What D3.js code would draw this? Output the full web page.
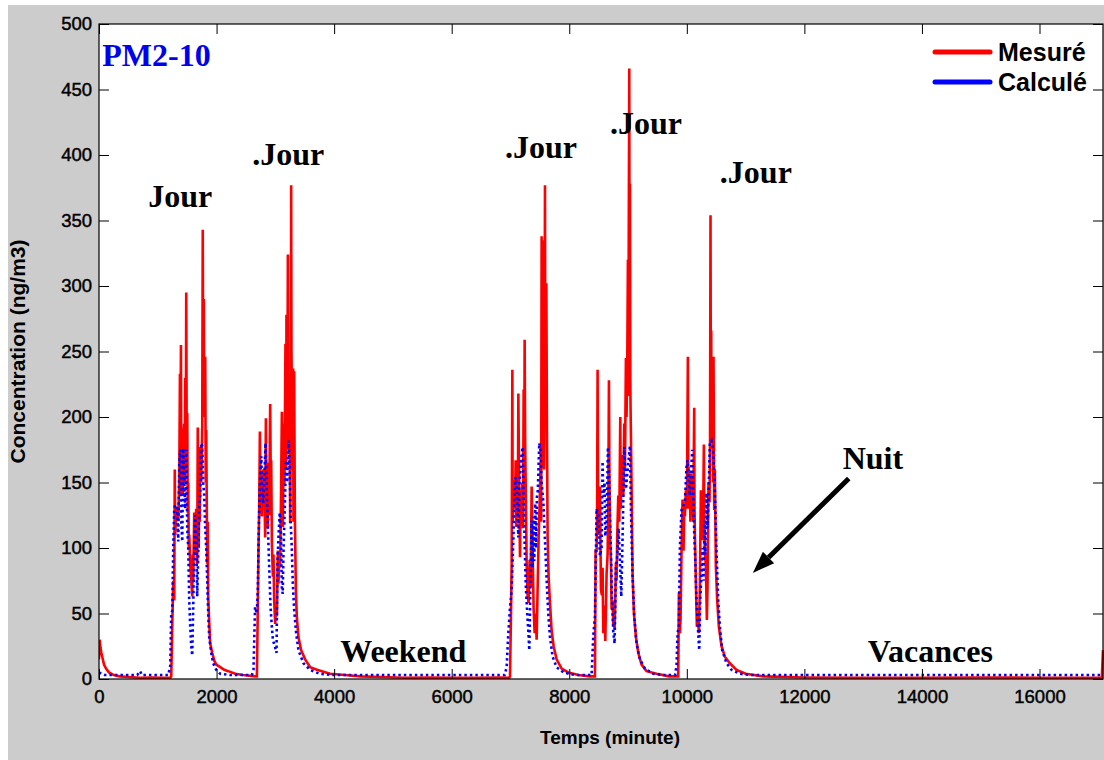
<!DOCTYPE html>
<html>
<head>
<meta charset="utf-8">
<script src="https://cdn.jsdelivr.net/npm/d3@7"></script>
<style>
  body { margin: 0; background: #ffffff; }
  svg { display: block; }
</style>
</head>
<body>
<svg id="chart" width="1104" height="760"></svg>
<script>
// ---- data -------------------------------------------------------------
const xTicks = [0, 2000, 4000, 6000, 8000, 10000, 12000, 14000, 16000];
const yTicks = [0, 50, 100, 150, 200, 250, 300, 350, 400, 450, 500];
const xMax = 17080;   // length of the record, minutes
const yMax = 500;

// measured concentration: [minute, ng/m3]
const mesure = [
  [0,15],[10,30],[25,24],[40,20],[60,16],[85,11],[120,8],[170,5],[250,3],[350,2],[500,1.5],[700,1],[900,1.2],[1100,1],[1215,1],
  [1229,2],[1246,40],[1263,75],[1280,60],[1289,160],[1297,110],[1314,130],[1331,125],[1348,121],[1365,150],[1377,233],[1382,140],[1394,255],[1399,170],[1416,190],[1425,140],[1433,185],[1450,195],[1459,150],[1467,230],[1476,160],[1484,295],[1493,170],[1501,203],[1510,127],[1518,150],[1527,101],[1535,110],[1552,88],[1569,76],[1586,63],[1595,95],[1603,75],[1620,127],[1629,95],[1637,114],[1654,130],[1663,100],[1671,88],[1680,192],[1688,127],[1697,100],[1705,152],[1714,120],[1722,177],[1739,150],[1756,190],[1765,343],[1773,230],[1782,290],[1790,200],[1807,246],[1816,150],[1824,190],[1841,88],[1850,120],[1858,63],[1875,43],[1892,27],[1926,20],[1960,14],[1994,11],[2062,9],[2130,7],[2198,6],[2317,4],[2453,3],[2657,2],
  [2686,2],[2703,60],[2713,98],[2725,130],[2737,189],[2747,135],[2759,144],[2771,124],[2781,152],[2798,160],[2815,140],[2827,108],[2839,199],[2849,130],[2861,165],[2873,115],[2883,150],[2895,125],[2912,210],[2924,140],[2929,167],[2941,104],[2958,78],[2968,95],[2980,60],[2997,42],[3014,55],[3026,48],[3043,98],[3053,73],[3070,98],[3082,85],[3094,129],[3111,204],[3128,116],[3145,195],[3155,149],[3172,256],[3184,160],[3189,278],[3201,180],[3206,226],[3213,324],[3223,200],[3230,175],[3240,230],[3252,119],[3264,200],[3269,377],[3274,250],[3286,200],[3291,160],[3303,237],[3308,120],[3320,235],[3332,124],[3349,68],[3366,47],[3393,32],[3439,22],[3507,15],[3592,9],[3706,7],[3931,4],[4186,3],[4440,2],
  [4800,1.5],[5200,1],[5600,1.2],[6000,1],[6400,1],[6800,1.2],[6980,1],
  [6992,2],[7009,50],[7020,89],[7032,236],[7037,120],[7049,134],[7066,152],[7077,130],[7088,167],[7100,116],[7117,150],[7125,125],[7134,218],[7145,160],[7162,93],[7173,144],[7190,130],[7202,150],[7213,115],[7224,221],[7233,140],[7241,259],[7250,180],[7258,152],[7275,89],[7292,63],[7309,58],[7326,91],[7343,70],[7360,147],[7377,98],[7394,53],[7411,35],[7428,50],[7445,30],[7462,70],[7479,108],[7496,134],[7513,165],[7522,120],[7530,338],[7536,200],[7542,335],[7553,190],[7570,160],[7579,210],[7587,377],[7593,200],[7598,230],[7610,302],[7621,185],[7632,108],[7649,78],[7672,58],[7700,37],[7734,25],[7785,15],[7870,8],[7984,5],[8154,3],[8350,2],
  [8437,2],[8448,98],[8465,98],[8474,130],[8482,236],[8491,120],[8499,128],[8511,110],[8522,147],[8539,68],[8556,64],[8567,85],[8579,35],[8596,56],[8613,29],[8635,80],[8652,95],[8664,130],[8675,228],[8684,150],[8692,111],[8709,90],[8720,53],[8737,60],[8749,41],[8760,55],[8771,38],[8783,60],[8794,89],[8805,75],[8817,111],[8834,140],[8851,120],[8868,200],[8876,130],[8885,150],[8902,171],[8919,140],[8936,195],[8947,160],[8964,245],[8975,200],[8987,243],[8998,320],[9004,216],[9021,466],[9026,250],[9032,378],[9038,230],[9043,207],[9060,147],[9077,80],[9100,50],[9134,32],[9174,20],[9230,11],[9315,6],[9485,4],[9700,2],
  [9854,2],[9865,66],[9876,40],[9882,35],[9893,45],[9910,98],[9927,137],[9939,110],[9944,98],[9956,130],[9967,124],[9984,144],[10001,130],[10018,246],[10024,150],[10029,162],[10041,130],[10052,150],[10061,120],[10069,157],[10080,125],[10097,150],[10109,120],[10126,207],[10131,130],[10137,111],[10154,73],[10171,40],[10188,48],[10205,35],[10222,70],[10239,144],[10250,110],[10256,140],[10273,106],[10290,179],[10299,110],[10307,98],[10324,86],[10341,45],[10352,70],[10369,150],[10386,135],[10395,180],[10403,354],[10409,200],[10415,266],[10420,180],[10426,203],[10437,220],[10446,150],[10454,246],[10466,129],[10477,160],[10494,86],[10517,60],[10545,40],[10590,25],[10647,17],[10732,12],[10845,7],[11000,4],[11300,2],
  [12000,1.2],[13000,1],[14000,1],[15000,1.2],[16000,1],[17060,1],[17080,22]
];

// model output: [minute, ng/m3]
const calcule = [
  [0,5],[40,4],[100,3],[300,3],[650,3],[700,6],[730,3],[1178,3],
  [1212,10],[1229,50],[1246,52],[1263,100],[1280,130],[1297,133],[1314,132],[1331,128],[1348,105],[1365,165],[1382,175],[1399,120],[1416,105],[1433,176],[1450,150],[1467,130],[1484,175],[1501,115],[1518,100],[1535,60],[1552,40],[1569,25],[1586,18],[1603,55],[1620,100],[1637,125],[1654,110],[1671,63],[1688,95],[1705,130],[1722,140],[1739,180],[1756,178],[1773,150],[1790,140],[1807,115],[1824,100],[1841,75],[1858,50],[1875,32],[1909,20],[1943,12],[1994,7],[2062,4],[2232,3],
  [2600,3],[2628,7],[2655,55],[2686,50],[2703,70],[2713,100],[2728,135],[2745,157],[2761,170],[2776,140],[2793,134],[2810,150],[2833,180],[2850,149],[2871,119],[2890,93],[2905,73],[2918,55],[2940,40],[2958,30],[2990,25],[3020,20],[3035,88],[3055,110],[3075,127],[3095,111],[3110,70],[3125,65],[3140,100],[3160,130],[3180,167],[3200,150],[3225,182],[3245,160],[3262,119],[3280,100],[3297,73],[3320,53],[3354,35],[3393,22],[3478,12],[3592,7],[3750,4],[4000,3],
  [6900,3],[6935,9],[6960,32],[6990,53],[7020,68],[7050,108],[7066,139],[7088,154],[7110,145],[7134,108],[7150,147],[7170,160],[7190,172],[7210,177],[7225,134],[7245,96],[7262,70],[7285,50],[7303,37],[7320,22],[7335,60],[7360,121],[7375,85],[7390,124],[7405,90],[7420,134],[7435,100],[7450,139],[7465,144],[7490,180],[7510,175],[7530,150],[7560,134],[7585,108],[7615,76],[7643,50],[7672,32],[7717,17],[7785,9],[7900,5],[8100,3],
  [8380,3],[8409,33],[8437,48],[8465,130],[8493,125],[8522,94],[8550,100],[8567,166],[8579,139],[8600,150],[8613,109],[8635,120],[8658,177],[8680,154],[8703,109],[8726,63],[8749,36],[8771,27],[8794,85],[8817,94],[8839,115],[8862,90],[8885,63],[8908,110],[8936,177],[8964,145],[9004,165],[9032,178],[9049,130],[9077,79],[9106,48],[9145,27],[9202,15],[9287,8],[9430,4],[9600,3],
  [9800,3],[9825,10],[9842,35],[9865,40],[9882,100],[9910,129],[9939,132],[9967,135],[9995,162],[10012,167],[10035,150],[10052,140],[10069,157],[10092,175],[10109,140],[10126,111],[10148,86],[10165,60],[10194,35],[10211,22],[10228,60],[10250,81],[10270,100],[10284,75],[10300,121],[10315,95],[10335,142],[10352,115],[10375,150],[10392,180],[10420,182],[10448,175],[10477,144],[10505,98],[10534,60],[10562,40],[10602,22],[10675,12],[10760,7],[10900,4],[11100,3],
  [17080,3]
];

const seriesNames = ["Mesuré", "Calculé"];
const seriesColors = ["#ff0000", "#0000ff"];

// text placed on the plot, anchored in data units (minute, ng/m3)
const notes = [
  { text: "Jour",     t: 838,   v: 360 },
  { text: ".Jour",    t: 2606,  v: 392 },
  { text: ".Jour",    t: 6907,  v: 398 },
  { text: ".Jour",    t: 8692,  v: 416 },
  { text: ".Jour",    t: 10562, v: 379 },
  { text: "Weekend",  t: 4103,  v: 13 },
  { text: "Vacances", t: 13080, v: 13 },
  { text: "Nuit",     t: 12652, v: 160 }
];
const arrowFrom = [12755, 153];
const arrowTo = [11123, 81];

// ---- layout -----------------------------------------------------------
const svg = d3.select("#chart");
const W = 1104, H = 760;
const plot = { left: 99, right: 1103, top: 24, bottom: 679 };

const x = d3.scaleLinear().domain([0, xMax]).range([plot.left, plot.right]);
const y = d3.scaleLinear().domain([0, yMax]).range([plot.bottom, plot.top]);

// figure background
svg.append("rect").attr("width", W).attr("height", H).attr("fill", "#ffffff");
svg.append("rect").attr("x", 8).attr("y", 5).attr("width", W - 8).attr("height", H - 5).attr("fill", "#cccccc");
svg.append("rect")
  .attr("x", plot.left).attr("y", plot.top)
  .attr("width", plot.right - plot.left).attr("height", plot.bottom - plot.top)
  .attr("fill", "#ffffff");

svg.append("defs").append("clipPath").attr("id", "plotClip")
  .append("rect")
  .attr("x", plot.left).attr("y", plot.top - 1)
  .attr("width", plot.right - plot.left + 1).attr("height", plot.bottom - plot.top + 1);

const line = d3.line().x(d => x(d[0])).y(d => y(d[1]));
const dataLayer = svg.append("g").attr("clip-path", "url(#plotClip)");

dataLayer.append("path")
  .datum(mesure)
  .attr("d", line)
  .attr("fill", "none")
  .attr("stroke", seriesColors[0])
  .attr("stroke-width", 2.6)
  .attr("stroke-linejoin", "miter")
  .attr("stroke-miterlimit", 2);

dataLayer.append("path")
  .datum(calcule)
  .attr("d", line)
  .attr("fill", "none")
  .attr("stroke", seriesColors[1])
  .attr("stroke-width", 2.6)
  .attr("stroke-dasharray", "2.5,3");

// ---- axes -------------------------------------------------------------
const tickFont = "'Liberation Sans', Arial, Helvetica, sans-serif";

const gx = svg.append("g").attr("transform", `translate(0,${plot.bottom})`)
  .call(d3.axisBottom(x).tickValues(xTicks).tickSize(-10).tickPadding(11).tickFormat(d3.format("d")));
const gy = svg.append("g").attr("transform", `translate(${plot.left},0)`)
  .call(d3.axisLeft(y).tickValues(yTicks).tickSize(-10).tickPadding(7).tickFormat(d3.format("d")));
const gxt = svg.append("g").attr("transform", `translate(0,${plot.top})`)
  .call(d3.axisTop(x).tickValues(xTicks).tickSize(-10).tickFormat(""));
const gyr = svg.append("g").attr("transform", `translate(${plot.right},0)`)
  .call(d3.axisRight(y).tickValues(yTicks).tickSize(-10).tickFormat(""));

[gx, gy, gxt, gyr].forEach(g => {
  g.select(".domain").remove();
  g.selectAll(".tick line").attr("stroke", "#000").attr("stroke-width", 1);
  g.selectAll(".tick text")
    .attr("fill", "#000")
    .attr("stroke", "#000").attr("stroke-width", 0.45)
    .style("font-family", tickFont)
    .style("font-size", "18.5px");
});

svg.append("rect")
  .attr("x", plot.left).attr("y", plot.top)
  .attr("width", plot.right - plot.left).attr("height", plot.bottom - plot.top)
  .attr("fill", "none").attr("stroke", "#000").attr("stroke-width", 1.2);

// axis titles
svg.append("text")
  .attr("x", 610).attr("y", 744)
  .attr("text-anchor", "middle")
  .style("font-family", tickFont).style("font-size", "19px").style("font-weight", "bold")
  .text("Temps (minute)");

svg.append("text")
  .attr("transform", `translate(25,${(plot.top + plot.bottom) / 2}) rotate(-90)`)
  .attr("text-anchor", "middle")
  .style("font-family", tickFont).style("font-size", "21px").style("font-weight", "bold")
  .text("Concentration (ng/m3)");

// ---- annotations ------------------------------------------------------
const serif = "'Liberation Serif', 'Times New Roman', serif";

svg.append("text")
  .attr("x", x(56)).attr("y", y(468))
  .attr("fill", "#0000ee")
  .style("font-family", serif).style("font-size", "32px").style("font-weight", "bold")
  .text("PM2-10");

svg.append("g").selectAll("text").data(notes).join("text")
  .attr("x", d => x(d.t)).attr("y", d => y(d.v))
  .attr("fill", "#000")
  .style("font-family", serif).style("font-size", "32px").style("font-weight", "bold")
  .text(d => d.text);

// arrow pointing to the night-time tail
const ax0 = x(arrowFrom[0]), ay0 = y(arrowFrom[1]);
const ax1 = x(arrowTo[0]), ay1 = y(arrowTo[1]);
const ang = Math.atan2(ay1 - ay0, ax1 - ax0);
const headLen = 22, headHalf = 8;
const bx = ax1 - headLen * Math.cos(ang), by = ay1 - headLen * Math.sin(ang);
svg.append("line")
  .attr("x1", ax0).attr("y1", ay0).attr("x2", bx).attr("y2", by)
  .attr("stroke", "#000").attr("stroke-width", 5);
svg.append("path")
  .attr("d", `M${ax1},${ay1}L${bx + headHalf * Math.sin(ang)},${by - headHalf * Math.cos(ang)}L${bx - headHalf * Math.sin(ang)},${by + headHalf * Math.cos(ang)}Z`)
  .attr("fill", "#000");

// ---- legend -----------------------------------------------------------
const legend = svg.append("g").attr("transform", "translate(933,52)");
seriesNames.forEach((name, i) => {
  const row = legend.append("g").attr("transform", `translate(0,${i * 30})`);
  row.append("line")
    .attr("x1", 2).attr("x2", 57).attr("y1", 0).attr("y2", 0)
    .attr("stroke", seriesColors[i]).attr("stroke-width", 5).attr("stroke-linecap", "round");
  row.append("text")
    .attr("x", 65).attr("y", 0).attr("dy", "0.36em")
    .style("font-family", tickFont).style("font-size", "25px").style("font-weight", "bold")
    .text(name);
});
</script>
</body>
</html>
